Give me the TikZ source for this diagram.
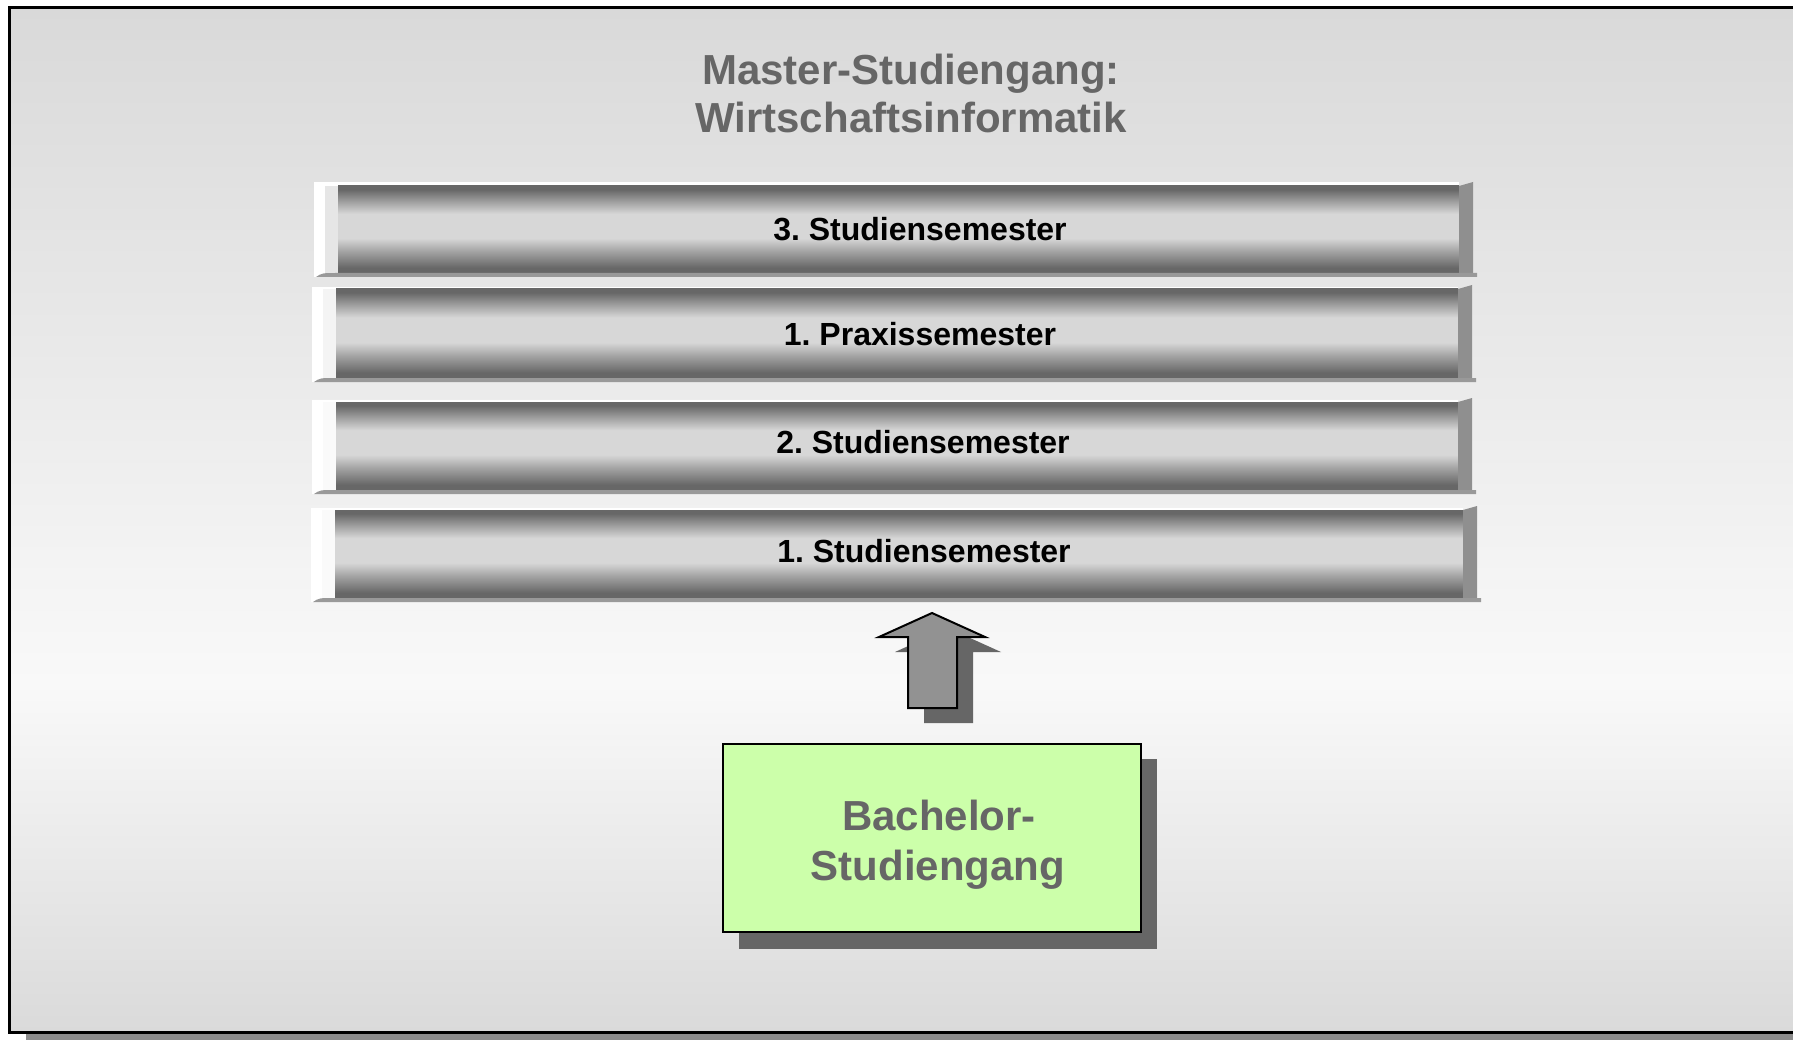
\documentclass[tikz,border=0pt]{standalone}
\usepackage{fontspec}
\setmainfont{Liberation Sans}
\frenchspacing
\definecolor{bgT}{HTML}{D9D9D9}
\definecolor{bgL}{HTML}{F9F9F9}
\definecolor{bgB}{HTML}{DADADA}
\definecolor{barD}{HTML}{676767}
\definecolor{barM}{HTML}{A0A0A0}
\definecolor{barL}{HTML}{D7D7D7}
\definecolor{sidegray}{HTML}{8F8F8F}
\definecolor{stripgray}{HTML}{999999}
\definecolor{framesh}{HTML}{8C8C8C}
\definecolor{txtgray}{HTML}{666666}
\definecolor{arrowfill}{HTML}{929292}
\definecolor{shadow66}{HTML}{666666}
\definecolor{bgreen}{HTML}{CCFFAA}
\definecolor{inA}{HTML}{E6E6E6}
\definecolor{inB}{HTML}{F4F4F4}
\definecolor{inC}{HTML}{FAFAFA}
\pgfdeclareverticalshading{bgshade}{100bp}{color(0bp)=(bgB); color(25bp)=(bgB); color(42bp)=(bgL); color(75bp)=(bgT); color(100bp)=(bgT)}
\pgfdeclareverticalshading{barshade}{100bp}{color(0bp)=(barD); color(25bp)=(barD); color(28bp)=(barD); color(37bp)=(barM); color(45bp)=(barL); color(59bp)=(barL); color(66bp)=(barM); color(73bp)=(barD); color(75bp)=(barD); color(100bp)=(barD)}
\tikzset{
  bartext/.style={anchor=base, inner sep=0pt, font=\fontsize{32}{36}\selectfont\bfseries, text=black},
  titletext/.style={anchor=base, inner sep=0pt, font=\fontsize{42}{48}\selectfont\bfseries, text=txtgray},
  bachbox/.style={draw=black, line width=2pt, fill=bgreen, minimum width=418pt, minimum height=188pt, inner sep=0pt},
}
% #1 name, #2 white top, #3 gradient top, #4 gradient bottom, #5 gradient left, #6 gradient right, #7 inner strip colour, #8 text base point, #9 text
\newcommand\semslab[9]{%
  \fill[white] (#5-24,#2) rectangle (#6,#4+4);
  \fill[#7] (#5-13,#3) rectangle (#5,#4);
  \path[shade, shading=barshade] (#5,#3) rectangle (#6,#4);
  \fill[sidegray] (#6,#3) -- (#6+14,#3-4) -- (#6+14,#4) -- (#6,#4) -- cycle;
  \fill[stripgray] (#5-22,#4+4) .. controls (#5-16,#4) .. (#5,#4) -- (#6+18,#4) -- (#6+18,#4+4) -- cycle;
  \node[bartext] (#1) at (#8) {#9};
}
\begin{document}
\begin{tikzpicture}[x=1pt,y=-1pt]
\useasboundingbox (0,0) rectangle (1793,1040);
% frame
\fill[framesh] (26,24) rectangle (1815,1045);
\path[shade, shading=bgshade, draw=black, line width=3pt] (9.5,7.5) rectangle (1805,1032.5);
% title
\node[titletext] (title1) at (911,85) {Master-Studiengang:};
\node[titletext] (title2) at (911,133) {Wirtschaftsinformatik};
% semesters
\semslab{s3}{182}{186}{273}{338}{1459}{inA}{920,241}{3. Studiensemester}
\semslab{p1}{287}{289}{378}{336}{1458}{inB}{920,346}{1. Praxissemester}
\semslab{s2}{400}{402}{490}{336}{1458}{inC}{923,453.5}{2. Studiensemester}
\semslab{s1}{508}{510}{598}{335}{1463}{inC}{924,562}{1. Studiensemester}
% arrow shadow and arrow
\fill[shadow66] (948,628) -- (1001,652) -- (973,652) -- (973,723) -- (924,723) -- (924,652) -- (895,652) -- cycle;
\draw[fill=arrowfill, line width=2pt, line join=miter] (932,613) -- (985,637) -- (957,637) -- (957,708) -- (908,708) -- (908,637) -- (879,637) -- cycle;
% bachelor box
\fill[shadow66] (739,759) rectangle (1157,949);
\node[bachbox] (bach) at (932,838) {};
\node[titletext] (bach1) at (939,830) {Bachelor-};
\node[titletext] (bach2) at (938,880) {Studiengang};
\end{tikzpicture}
\end{document}
